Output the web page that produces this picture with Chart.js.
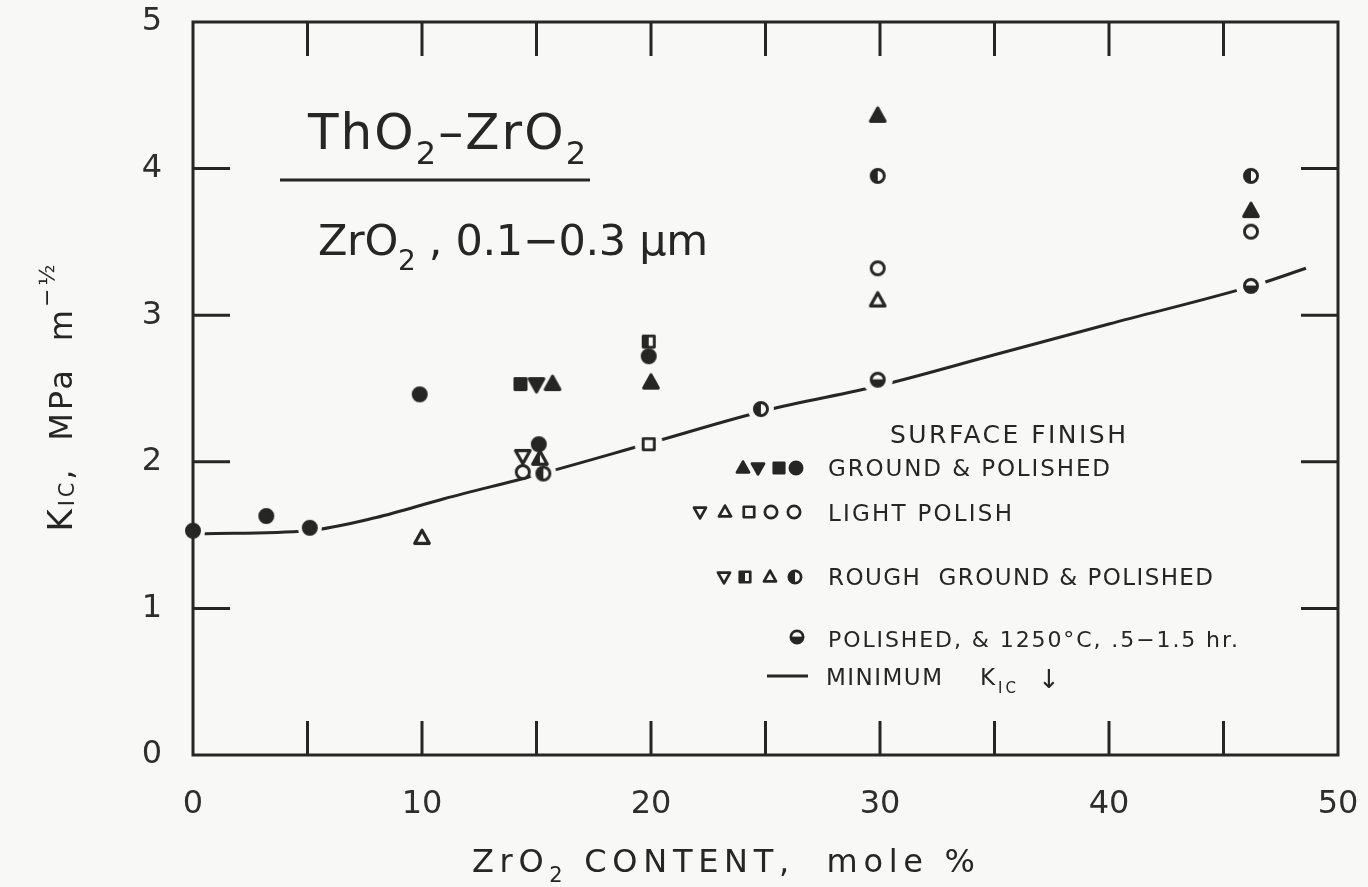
<!DOCTYPE html>
<html>
<head>
<meta charset="utf-8">
<script src="https://cdn.jsdelivr.net/npm/chart.js@4/dist/chart.umd.min.js"></script>
<style>
html,body{margin:0;padding:0;background:#f8f8f6;}
#wrap{width:1368px;height:887px;position:relative;}
</style>
</head>
<body>
<div id="wrap"><canvas id="c" width="1368" height="887"></canvas></div>
<script>
// ---------- DATA ----------
const xTickValues = [0, 10, 20, 30, 40, 50];
const yTickValues = [0, 1, 2, 3, 4, 5];

// Ground & polished (filled symbols)
const gpCircleX = [0, 3.2, 5.1, 9.9, 15.1, 19.9];
const gpCircleY = [1.53, 1.63, 1.55, 2.46, 2.12, 2.72];
const gpTriX = [15.7, 20, 29.9, 46.2];
const gpTriY = [2.53, 2.54, 4.36, 3.71];
const gpTriDownX = [15.0];
const gpTriDownY = [2.53];
const gpSquareX = [14.3];
const gpSquareY = [2.53];

// Light polish (open symbols)
const lpCircleX = [14.4, 29.9, 46.2];
const lpCircleY = [1.93, 3.32, 3.57];
const lpTriX = [10, 29.9];
const lpTriY = [1.48, 3.10];
const lpTriDownX = [14.4];
const lpTriDownY = [2.04];
const lpSquareX = [19.9];
const lpSquareY = [2.12];

// Rough ground & polished (half-filled symbols)
const rgCircleX = [15.3, 24.8, 29.9, 46.2];
const rgCircleY = [1.92, 2.36, 3.95, 3.95];
const rgTriX = [15.15];
const rgTriY = [2.02];
const rgSquareX = [19.9];
const rgSquareY = [2.82];

// Polished & 1250 C, .5-1.5 hr
const anX = [29.9, 46.2];
const anY = [2.56, 3.20];

// Minimum K_IC curve
const minX = [0.5, 5, 8, 11, 15, 20, 25, 30, 35, 40, 46.5, 48.6];
const minY = [1.51, 1.53, 1.62, 1.75, 1.91, 2.13, 2.35, 2.52, 2.73, 2.94, 3.21, 3.32];

// ---------- STYLE ----------
const INK = '#262626';
const BG = '#f8f8f6';
const FONT = '"DejaVu Sans", "Liberation Sans", sans-serif';

function shapePath(g, shape, x, y, r) {
  g.beginPath();
  if (shape === 'circle') g.arc(x, y, r, 0, 2 * Math.PI);
  else if (shape === 'tri') { g.moveTo(x, y - r * 1.05); g.lineTo(x + r * 0.98, y + r * 0.72); g.lineTo(x - r * 0.98, y + r * 0.72); g.closePath(); }
  else if (shape === 'triD') { g.moveTo(x, y + r * 1.05); g.lineTo(x + r * 0.98, y - r * 0.72); g.lineTo(x - r * 0.98, y - r * 0.72); g.closePath(); }
  else if (shape === 'sq') { const h = r * 0.85; g.rect(x - h, y - h, 2 * h, 2 * h); }
}
function drawSym(g, kind, x, y, r) {
  const [shape, fill] = kind.split(':');
  const lw = Math.max(2, r * 0.36);
  g.save();
  g.lineWidth = lw; g.strokeStyle = INK; g.lineJoin = 'round';
  shapePath(g, shape, x, y, r - lw / 2);
  if (fill === 'F') { g.fillStyle = INK; g.fill(); g.stroke(); g.restore(); return; }
  g.fillStyle = BG; g.fill();
  if (fill === 'H' || fill === 'A') {
    g.save(); g.clip();
    g.fillStyle = INK;
    if (fill === 'H') g.fillRect(x - r - 2, y - r - 2, r + 2, 2 * r + 4);
    else g.fillRect(x - r - 2, y - r * 0.05, 2 * r + 4, r + 4);
    g.restore();
  }
  g.stroke();
  g.restore();
}
function makeSym(kind, r, halo) {
  const pad = 3 + (halo || 0);
  const size = Math.ceil(2 * r + 2 * pad);
  const c = document.createElement('canvas');
  c.width = size; c.height = size;
  const g = c.getContext('2d');
  const cx = size / 2, cy = size / 2;
  if (halo) { g.fillStyle = BG; g.beginPath(); g.arc(cx, cy, r + halo, 0, 2 * Math.PI); g.fill(); }
  drawSym(g, kind, cx, cy, r);
  return c;
}
function pts(xs, ys) { return xs.map((x, i) => ({ x: x, y: ys[i] })); }
function markerSet(label, xs, ys, kind, r, halo) {
  return { type: 'scatter', label: label, data: pts(xs, ys), pointStyle: makeSym(kind, r, halo),
    pointRadius: r, pointHoverRadius: r, clip: false, order: 0 };
}

function drawRich(ctx, segs, x, y, opts) {
  ctx.save();
  ctx.letterSpacing = '0px';
  let nat = 0, n = 0;
  segs.forEach(s => {
    ctx.font = `${s.weight || 'normal'} ${s.size}px ${FONT}`;
    s.w = ctx.measureText(s.t).width; nat += s.w; n += [...s.t].length;
  });
  const ls = opts.width ? (opts.width - nat) / Math.max(1, n - 1) : 0;
  const total = nat + ls * (n - 1);
  let cx = opts.align === 'center' ? x - total / 2 : (opts.align === 'right' ? x - total : x);
  ctx.textAlign = 'left'; ctx.textBaseline = 'alphabetic';
  ctx.fillStyle = opts.color || INK;
  ctx.letterSpacing = ls.toFixed(2) + 'px';
  segs.forEach(s => {
    ctx.font = `${s.weight || 'normal'} ${s.size}px ${FONT}`;
    ctx.fillText(s.t, cx, y + (s.dy || 0));
    cx += s.w + ls * [...s.t].length;
  });
  ctx.restore();
}

const bgPlugin = {
  id: 'bg',
  beforeDraw(chart) {
    const c = chart.ctx; c.save(); c.fillStyle = BG; c.fillRect(0, 0, chart.width, chart.height); c.restore();
  }
};

const framePlugin = {
  id: 'frame',
  afterDatasetsDraw(chart) {
    const c = chart.ctx, a = chart.chartArea, xs = chart.scales.x, ys = chart.scales.y;
    c.save();
    c.strokeStyle = INK; c.lineWidth = 3; c.lineCap = 'butt';
    c.strokeRect(a.left, a.top, a.right - a.left, a.bottom - a.top);
    c.beginPath();
    for (let v = 5; v < 50; v += 5) {
      const px = xs.getPixelForValue(v);
      c.moveTo(px, a.top); c.lineTo(px, a.top + 34);
      c.moveTo(px, a.bottom); c.lineTo(px, a.bottom - 34);
    }
    for (let v = 1; v < 5; v += 1) {
      const py = ys.getPixelForValue(v);
      c.moveTo(a.left, py); c.lineTo(a.left + 37, py);
      c.moveTo(a.right, py); c.lineTo(a.right - 37, py);
    }
    c.stroke();
    c.restore();
  }
};

const textPlugin = {
  id: 'texts',
  afterDraw(chart) {
    const c = chart.ctx;
    // Title
    drawRich(c, [{ t: 'ThO', size: 50 }, { t: '2', size: 32, dy: 15 }, { t: '–ZrO', size: 50 }, { t: '2', size: 32, dy: 15 }],
      308, 149, { width: 278 });
    c.save(); c.strokeStyle = INK; c.lineWidth = 3;
    c.beginPath(); c.moveTo(280, 180); c.lineTo(590, 180); c.stroke(); c.restore();
    drawRich(c, [{ t: 'ZrO', size: 43 }, { t: '2', size: 28, dy: 15 }, { t: ' , 0.1−0.3 μm', size: 43 }],
      318, 255, { width: 390 });

    // Axis titles
    drawRich(c, [{ t: 'ZrO', size: 32 }, { t: '2', size: 21, dy: 10 }, { t: ' CONTENT,  mole %', size: 32 }],
      472, 872, { width: 503 });
    c.save();
    c.translate(72, 398); c.rotate(-Math.PI / 2);
    drawRich(c, [{ t: 'K', size: 34 }, { t: 'IC', size: 21, dy: 2 }, { t: ',  MPa  m', size: 32 }, { t: '−½', size: 22, dy: -18 }],
      0, 0, { width: 267, align: 'center' });
    c.restore();

    // Legend
    drawRich(c, [{ t: 'SURFACE FINISH', size: 25 }], 890, 443, { width: 236 });
    drawRich(c, [{ t: 'GROUND & POLISHED', size: 23 }], 828, 476, { width: 282 });
    drawRich(c, [{ t: 'LIGHT POLISH', size: 23 }], 828, 521, { width: 184 });
    drawRich(c, [{ t: 'ROUGH  GROUND & POLISHED', size: 23 }], 828, 585, { width: 385 });
    drawRich(c, [{ t: 'POLISHED, & 1250°C, .5−1.5 hr.', size: 22 }], 828, 647, { width: 410 });
    drawRich(c, [{ t: 'MINIMUM', size: 23 }], 826, 685, { width: 116 });
    drawRich(c, [{ t: 'K', size: 23 }, { t: 'IC', size: 15, dy: 8 }], 980, 685, { width: 36 });
    drawRich(c, [{ t: '↓', size: 26 }], 1038, 688, {});

    const r = 7.5;
    [['tri:F', 743], ['triD:F', 758], ['sq:F', 779], ['circle:F', 796]].forEach(s => drawSym(c, s[0], s[1], 468, r));
    [['triD:O', 700], ['tri:O', 725], ['sq:O', 749], ['circle:O', 771], ['circle:O', 794]].forEach(s => drawSym(c, s[0], s[1], 512, r));
    [['triD:O', 724], ['sq:H', 745], ['tri:O', 770], ['circle:H', 795]].forEach(s => drawSym(c, s[0], s[1], 577, r));
    drawSym(c, 'circle:A', 797, 637, r);
    c.save(); c.strokeStyle = INK; c.lineWidth = 3;
    c.beginPath(); c.moveTo(767, 676); c.lineTo(808, 676); c.stroke(); c.restore();
  }
};

const datasets = [
  markerSet('gpTri', gpTriX, gpTriY, 'tri:F', 9, 0),
  markerSet('gpTriDown', gpTriDownX, gpTriDownY, 'triD:F', 9, 0),
  markerSet('gpSquare', gpSquareX, gpSquareY, 'sq:F', 8, 0),
  markerSet('lpCircle', lpCircleX, lpCircleY, 'circle:O', 8, 0),
  markerSet('lpTri', lpTriX, lpTriY, 'tri:O', 9, 0),
  markerSet('lpTriDown', lpTriDownX, lpTriDownY, 'triD:O', 9, 0),
  markerSet('rgTri', rgTriX, rgTriY, 'tri:H', 9, 0),
  markerSet('rgSquare', rgSquareX, rgSquareY, 'sq:H', 8, 0),
  markerSet('gpCircle', gpCircleX, gpCircleY, 'circle:F', 8, 4),
  markerSet('lpSquare', lpSquareX, lpSquareY, 'sq:O', 8, 6),
  markerSet('rgCircle', rgCircleX, rgCircleY, 'circle:H', 8, 5),
  markerSet('annealed', anX, anY, 'circle:A', 8, 7),
  { type: 'line', label: 'Minimum KIC', data: pts(minX, minY), borderColor: INK, borderWidth: 3,
    pointRadius: 0, cubicInterpolationMode: 'monotone', fill: false, order: 10, clip: false }
];

function zeroPad(s) { s.paddingTop = 0; s.paddingBottom = 0; s.paddingLeft = 0; s.paddingRight = 0; }

new Chart(document.getElementById('c'), {
  type: 'scatter',
  data: { datasets: datasets },
  options: {
    responsive: false,
    animation: false,
    devicePixelRatio: 1,
    layout: { padding: { left: 0, right: 30, top: 22, bottom: 0 } },
    plugins: { legend: { display: false }, tooltip: { enabled: false }, title: { display: false } },
    scales: {
      x: {
        type: 'linear', min: 0, max: 50,
        border: { display: false },
        grid: { display: false, drawTicks: false },
        ticks: {
          stepSize: 5, autoSkip: false, maxRotation: 0, padding: 30,
          color: '#2e2e2e', font: { family: FONT, size: 32 },
          callback: v => (xTickValues.includes(v) ? String(v) : '')
        },
        afterFit: s => { s.height = 132; zeroPad(s); }
      },
      y: {
        type: 'linear', min: 0, max: 5,
        border: { display: false },
        grid: { display: false, drawTicks: false },
        ticks: {
          stepSize: 1, padding: 31,
          color: '#2e2e2e', font: { family: FONT, size: 32 },
          callback: v => (yTickValues.includes(v) ? String(v) : '')
        },
        afterFit: s => { s.width = 193; zeroPad(s); }
      }
    }
  },
  plugins: [bgPlugin, framePlugin, textPlugin]
});
</script>
</body>
</html>
